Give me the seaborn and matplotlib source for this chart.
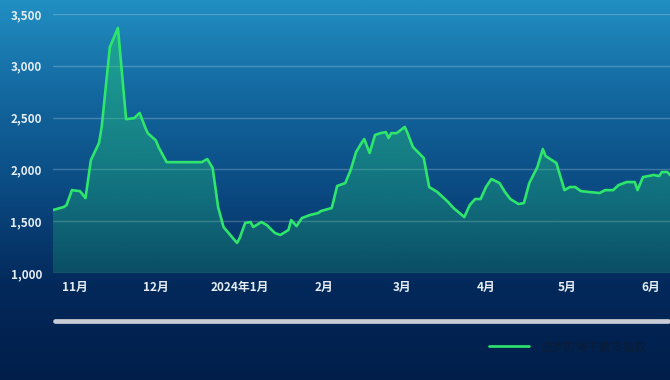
import numpy as np
import pandas as pd
import matplotlib
matplotlib.use("Agg")
import matplotlib.pyplot as plt
import matplotlib.dates as mdates
import seaborn as sns
from matplotlib.colors import LinearSegmentedColormap, to_rgb
from matplotlib.lines import Line2D

# 波罗的海干散货指数
dates = [
    "2023-10-24", "2023-10-28", "2023-10-29", "2023-10-31", "2023-11-03", "2023-11-05",
    "2023-11-07", "2023-11-10", "2023-11-11", "2023-11-14", "2023-11-17", "2023-11-20",
    "2023-11-23", "2023-11-25", "2023-11-27", "2023-11-28", "2023-12-01", "2023-12-02",
    "2023-12-05", "2023-12-18", "2023-12-20", "2023-12-22", "2023-12-24", "2023-12-26",
    "2023-12-31", "2024-01-01", "2024-01-03", "2024-01-05", "2024-01-06", "2024-01-09",
    "2024-01-11", "2024-01-14", "2024-01-16", "2024-01-19", "2024-01-20", "2024-01-22",
    "2024-01-24", "2024-01-27", "2024-01-30", "2024-01-31", "2024-02-04", "2024-02-05",
    "2024-02-06", "2024-02-09", "2024-02-11", "2024-02-13", "2024-02-15", "2024-02-16",
    "2024-02-18", "2024-02-20", "2024-02-22", "2024-02-24", "2024-02-25", "2024-02-26",
    "2024-02-28", "2024-03-02", "2024-03-03", "2024-03-05", "2024-03-09", "2024-03-11",
    "2024-03-14", "2024-03-18", "2024-03-20", "2024-03-24", "2024-03-26", "2024-03-28",
    "2024-03-30", "2024-04-01", "2024-04-03", "2024-04-06", "2024-04-08", "2024-04-10",
    "2024-04-13", "2024-04-15", "2024-04-17", "2024-04-20", "2024-04-22", "2024-04-23",
    "2024-04-27", "2024-04-30", "2024-05-02", "2024-05-04", "2024-05-06", "2024-05-09",
    "2024-05-13", "2024-05-15", "2024-05-18", "2024-05-20", "2024-05-23", "2024-05-26",
    "2024-05-27", "2024-05-29", "2024-06-02", "2024-06-04", "2024-06-05", "2024-06-07",
    "2024-06-08",
]
bdi = [
    1608, 1637, 1656, 1800, 1790, 1723,
    2090, 2255, 2410, 3180, 3365, 2485,
    2495, 2545, 2410, 2350, 2280, 2215,
    2070, 2070, 2100, 2013, 1637, 1444,
    1290, 1338, 1483, 1492, 1444, 1492,
    1463, 1386, 1367, 1415, 1511, 1453,
    1531, 1560, 1579, 1598, 1627, 1733,
    1840, 1868, 1994, 2168, 2255, 2293,
    2158, 2332, 2350, 2360, 2303, 2350,
    2350, 2410, 2350, 2216, 2110, 1830,
    1782, 1685, 1627, 1540, 1656, 1714,
    1714, 1830, 1907, 1868, 1782, 1714,
    1666, 1675, 1868, 2023, 2197, 2129,
    2062, 1800, 1830, 1830, 1791, 1782,
    1772, 1800, 1800, 1849, 1878, 1878,
    1800, 1926, 1946, 1936, 1975, 1975,
    1946,
]
month_ticks = ["2023-11-01", "2023-12-01", "2024-01-01", "2024-02-01",
               "2024-03-01", "2024-04-01", "2024-05-01", "2024-06-01"]
month_labels = ["11月", "12月", "2024年1月", "2月", "3月", "4月", "5月", "6月"]
y_ticks = [1000, 1500, 2000, 2500, 3000, 3500]
series_name = "波罗的海干散货指数"

sns.set_theme(style="white")
plt.rcParams["font.family"] = ["Noto Sans CJK SC", "DejaVu Sans"]

df = pd.DataFrame({"date": pd.to_datetime(dates), "bdi": bdi})

fig = plt.figure(figsize=(6.7, 3.8), dpi=100)

# 背景渐变
bg = fig.add_axes([0, 0, 1, 1], zorder=0)
bg_cmap = LinearSegmentedColormap.from_list(
    "bg", ["#218fc2", "#13679f", "#0b4a82", "#03295b", "#011e4a"])
bg.imshow(np.linspace(0, 1, 256).reshape(-1, 1), aspect="auto", cmap=bg_cmap,
          extent=[0, 1, 0, 1])
bg.set_xlim(0, 1)
bg.set_ylim(0, 1)
bg.axis("off")

# 滑块条
bg.add_line(Line2D([55 / 670, 668 / 670], [1 - 320.5 / 380] * 2, transform=fig.transFigure,
                   color="#c9cdd8", lw=3.4, solid_capstyle="round"))

ax = fig.add_axes([53 / 670, 107 / 380, 617 / 670, 259 / 380], zorder=1)
ax.patch.set_alpha(0)

sns.lineplot(data=df, x="date", y="bdi", ax=ax, color="#2ee66b", linewidth=1.9,
             label=series_name, legend=False, zorder=3)

# 面积渐变填充
poly = ax.fill_between(df["date"], df["bdi"], 1000, color="none", lw=0)
x0, x1 = mdates.date2num(df["date"].iloc[0]), mdates.date2num(df["date"].iloc[-1])
grad = np.zeros((256, 1, 4))
grad[:, 0, :3] = to_rgb("#22c477")
grad[:, 0, 3] = np.linspace(0.22, 0.55, 256)
img = ax.imshow(grad, aspect="auto", origin="lower", extent=[x0, x1, 1000, 3500], zorder=2)
img.set_clip_path(poly.get_paths()[0], transform=ax.transData)

ax.set_xlim(x0, x1)
ax.set_ylim(1000, 3500)
ax.set_yticks(y_ticks)
ax.set_yticklabels([f"{v:,}" for v in y_ticks])
ax.set_xticks(pd.to_datetime(month_ticks))
ax.set_xticklabels(month_labels)
ax.set_xlabel("")
ax.set_ylabel("")
ax.yaxis.grid(True, color="white", alpha=0.22, lw=1.0)
ax.xaxis.grid(False)
for s in ax.spines.values():
    s.set_visible(False)
ax.tick_params(axis="both", length=0, colors="#e4edf4", labelsize=8.5)
ax.tick_params(axis="y", pad=8)
ax.tick_params(axis="x", pad=6)
for lab in ax.get_xticklabels() + ax.get_yticklabels():
    lab.set_fontweight("bold")

handles, labels = ax.get_legend_handles_labels()
fig.legend(handles, labels, loc="center left", bbox_to_anchor=(483 / 670, 1 - 347 / 380),
           frameon=False, borderpad=0, handlelength=3.4, handletextpad=1.0,
           fontsize=8.5, labelcolor="#0c1c34")

fig.savefig("out.png", dpi=100)
